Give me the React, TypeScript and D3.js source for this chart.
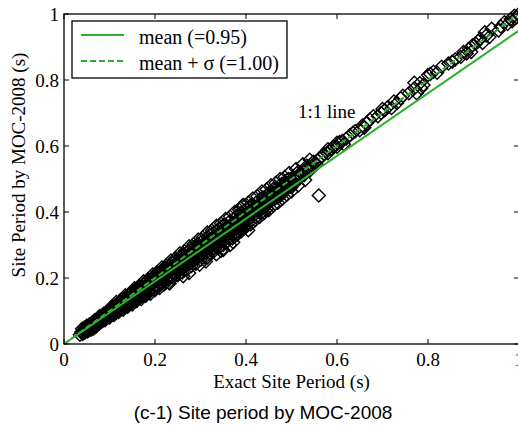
import React from "react";
import * as d3 from "d3";

const xTicks = [0, 0.2, 0.4, 0.6, 0.8, 1];
const yTicks = [0, 0.2, 0.4, 0.6, 0.8, 1];
const meanRatio = 0.95;
const meanPlusSigma = 1.0;
const legendLabels = ["mean (=0.95)", "mean + \u03c3 (=1.00)"];

// [exact site period (s), MOC-2008 site period (s)]
const samples: [number, number][] = [
  [0.035,0.028],[0.038,0.036],[0.041,0.030],[0.044,0.042],[0.046,0.035],[0.049,0.047],[0.051,0.040],[0.053,0.051],[0.055,0.046],[0.058,0.050],
  [0.060,0.057],[0.062,0.049],[0.064,0.061],[0.066,0.055],[0.068,0.066],[0.070,0.060],[0.072,0.071],[0.074,0.063],[0.076,0.073],[0.078,0.068],
  [0.080,0.078],[0.082,0.071],[0.084,0.082],[0.086,0.077],[0.088,0.084],[0.090,0.080],[0.092,0.090],[0.094,0.083],[0.096,0.093],[0.098,0.089],
  [0.100,0.097],[0.102,0.090],[0.104,0.101],[0.106,0.095],[0.108,0.106],[0.110,0.098],[0.112,0.108],[0.114,0.103],[0.116,0.113],[0.118,0.106],
  [0.120,0.118],[0.122,0.110],[0.124,0.121],[0.126,0.116],[0.128,0.124],[0.130,0.120],[0.132,0.130],[0.134,0.122],[0.136,0.133],[0.138,0.128],
  [0.140,0.137],[0.142,0.131],[0.144,0.141],[0.146,0.134],[0.148,0.145],[0.150,0.140],[0.152,0.150],[0.154,0.143],[0.156,0.152],[0.158,0.148],
  [0.160,0.157],[0.162,0.151],[0.164,0.161],[0.166,0.155],[0.168,0.166],[0.170,0.159],[0.172,0.169],[0.174,0.163],[0.176,0.173],[0.178,0.167],
  [0.180,0.177],[0.182,0.171],[0.184,0.181],[0.186,0.174],[0.188,0.185],[0.190,0.179],[0.192,0.189],[0.194,0.183],[0.196,0.193],[0.198,0.186],
  [0.200,0.197],[0.045,0.050],[0.060,0.044],[0.075,0.080],[0.090,0.072],[0.105,0.110],[0.120,0.104],[0.135,0.139],[0.150,0.133],[0.165,0.170],
  [0.180,0.165],[0.195,0.200],[0.070,0.052],[0.115,0.096],[0.160,0.146],[0.185,0.168],
  [0.202,0.190],[0.204,0.201],[0.206,0.195],[0.208,0.206],[0.210,0.198],[0.212,0.210],[0.214,0.202],[0.216,0.213],[0.218,0.207],[0.220,0.217],
  [0.222,0.210],[0.224,0.222],[0.226,0.214],[0.228,0.226],[0.230,0.218],[0.232,0.229],[0.234,0.222],[0.236,0.233],[0.238,0.226],[0.240,0.238],
  [0.242,0.229],[0.244,0.242],[0.246,0.233],[0.248,0.245],[0.250,0.238],[0.252,0.249],[0.254,0.241],[0.256,0.253],[0.258,0.246],[0.260,0.258],
  [0.262,0.249],[0.264,0.262],[0.266,0.253],[0.268,0.265],[0.270,0.257],[0.272,0.270],[0.274,0.261],[0.276,0.273],[0.278,0.265],[0.280,0.277],
  [0.282,0.268],[0.284,0.281],[0.286,0.272],[0.288,0.285],[0.290,0.276],[0.292,0.289],[0.294,0.280],[0.296,0.293],[0.298,0.284],[0.300,0.297],
  [0.303,0.288],[0.306,0.303],[0.309,0.294],[0.312,0.308],[0.315,0.299],[0.318,0.314],[0.321,0.305],[0.324,0.320],[0.327,0.311],[0.330,0.326],
  [0.333,0.316],[0.336,0.331],[0.339,0.322],[0.342,0.338],[0.345,0.327],[0.348,0.343],[0.351,0.333],[0.354,0.349],[0.357,0.340],[0.360,0.355],
  [0.363,0.345],[0.366,0.361],[0.369,0.350],[0.372,0.367],[0.375,0.356],[0.378,0.372],[0.381,0.362],[0.384,0.379],[0.387,0.368],[0.390,0.385],
  [0.393,0.373],[0.396,0.391],[0.399,0.380],
  [0.250,0.225],[0.270,0.248],[0.290,0.262],[0.300,0.272],[0.310,0.285],[0.330,0.300],[0.340,0.305],[0.355,0.325],[0.365,0.335],[0.375,0.348],
  [0.385,0.350],[0.395,0.362],[0.220,0.200],[0.240,0.220],[0.280,0.258],[0.320,0.293],
  [0.275,0.215],[0.315,0.262],[0.335,0.272],[0.350,0.285],[0.365,0.300],[0.380,0.330],
  [0.230,0.236],[0.260,0.266],[0.290,0.298],[0.320,0.330],[0.350,0.360],[0.380,0.388],[0.210,0.216],[0.340,0.349],
  [0.040,0.046],[0.043,0.033],[0.047,0.040],[0.050,0.055],[0.052,0.038],[0.056,0.060],[0.057,0.043],[0.061,0.064],[0.063,0.052],[0.065,0.047],
  [0.067,0.072],[0.069,0.056],[0.071,0.065],[0.073,0.057],[0.075,0.068],[0.077,0.062],[0.079,0.085],[0.081,0.066],[0.083,0.076],[0.085,0.070],
  [0.087,0.092],[0.089,0.074],[0.091,0.085],[0.093,0.078],[0.095,0.099],[0.097,0.081],[0.099,0.094],[0.101,0.086],[0.103,0.107],[0.105,0.088],
  [0.107,0.100],[0.109,0.093],[0.111,0.115],[0.113,0.095],[0.115,0.108],[0.117,0.100],[0.119,0.123],[0.121,0.102],
  [0.123,0.116],[0.125,0.105],[0.127,0.131],[0.129,0.112],[0.131,0.124],[0.133,0.110],[0.135,0.142],[0.137,0.118],[0.139,0.132],[0.141,0.120],
  [0.143,0.150],[0.145,0.126],[0.147,0.139],[0.149,0.125],[0.151,0.158],[0.153,0.133],[0.155,0.146],[0.157,0.131],[0.159,0.166],[0.161,0.140],
  [0.163,0.154],[0.165,0.138],[0.167,0.174],[0.169,0.147],[0.171,0.162],[0.173,0.145],[0.175,0.182],[0.177,0.154],[0.179,0.170],[0.181,0.152],
  [0.183,0.190],[0.185,0.161],[0.187,0.177],[0.189,0.160],[0.191,0.198],[0.193,0.168],[0.195,0.184],[0.197,0.167],[0.199,0.207],[0.201,0.175],
  [0.203,0.192],[0.205,0.174],[0.207,0.215],[0.209,0.183],[0.211,0.200],[0.213,0.182],[0.215,0.223],[0.217,0.191],[0.219,0.208],[0.221,0.189],
  [0.223,0.231],[0.225,0.198],[0.227,0.216],[0.229,0.196],[0.231,0.239],[0.233,0.206],[0.235,0.224],[0.237,0.204],[0.239,0.247],[0.241,0.214],
  [0.243,0.232],[0.245,0.212],[0.247,0.255],[0.249,0.222],
  [0.251,0.240],[0.253,0.221],[0.255,0.263],[0.257,0.230],[0.259,0.248],[0.261,0.228],[0.263,0.271],[0.265,0.238],[0.267,0.256],[0.269,0.236],
  [0.271,0.279],[0.273,0.246],[0.275,0.264],[0.277,0.244],[0.279,0.287],[0.281,0.254],[0.283,0.272],[0.285,0.252],[0.287,0.295],[0.289,0.262],
  [0.291,0.281],[0.293,0.259],[0.295,0.303],[0.297,0.270],[0.299,0.289],[0.301,0.267],[0.304,0.312],[0.307,0.279],[0.310,0.298],[0.313,0.276],
  [0.316,0.324],[0.319,0.289],[0.322,0.310],[0.325,0.287],[0.328,0.336],[0.331,0.300],[0.334,0.322],[0.337,0.298],[0.341,0.349],[0.344,0.312],
  [0.347,0.335],[0.350,0.310],[0.353,0.361],[0.356,0.324],[0.359,0.347],[0.362,0.322],[0.365,0.373],[0.368,0.337],[0.371,0.360],[0.374,0.334],
  [0.377,0.385],[0.380,0.350],[0.383,0.372],[0.386,0.347],[0.389,0.397],[0.392,0.362],[0.395,0.384],[0.398,0.358],[0.401,0.409],[0.404,0.375],
  [0.407,0.396],[0.410,0.372],[0.413,0.420],[0.416,0.388],[0.419,0.408],[0.422,0.384],[0.425,0.432],[0.428,0.400],[0.431,0.420],[0.434,0.398],
  [0.437,0.444],[0.440,0.414],[0.443,0.433],[0.446,0.410],[0.449,0.456],
  [0.402,0.395],[0.405,0.388],[0.408,0.402],[0.411,0.396],[0.414,0.408],[0.417,0.400],[0.420,0.415],[0.423,0.405],[0.426,0.421],[0.429,0.412],
  [0.432,0.428],[0.435,0.418],[0.438,0.434],[0.441,0.424],[0.444,0.440],[0.447,0.430],[0.450,0.446],[0.453,0.437],[0.456,0.452],[0.459,0.443],
  [0.462,0.458],[0.465,0.449],[0.468,0.465],[0.471,0.455],[0.474,0.471],[0.477,0.462],[0.480,0.477],[0.484,0.470],[0.488,0.485],[0.492,0.478],
  [0.496,0.494],[0.500,0.487],[0.505,0.503],[0.510,0.496],[0.515,0.513],[0.520,0.508],[0.526,0.522],[0.532,0.530],[0.538,0.536],[0.545,0.540],
  [0.552,0.550],[0.558,0.556],
  [0.410,0.420],[0.430,0.438],[0.460,0.470],[0.490,0.497],[0.420,0.395],[0.445,0.420],[0.470,0.445],[0.500,0.475],[0.388,0.412],[0.392,0.420],
  [0.452,0.430],[0.455,0.462],[0.458,0.436],[0.461,0.449],[0.464,0.440],[0.467,0.473],[0.470,0.452],[0.473,0.462],[0.476,0.450],[0.479,0.486],
  [0.482,0.462],[0.486,0.478],[0.490,0.470],[0.494,0.500],[0.498,0.478],[0.502,0.495],[0.507,0.488],[0.512,0.518],[0.517,0.500],[0.522,0.516],
  [0.528,0.512],[0.534,0.540],[0.540,0.525],[0.548,0.552],[0.555,0.545],[0.562,0.562],
  [0.105,0.114],[0.115,0.127],[0.125,0.134],[0.135,0.148],[0.145,0.154],[0.155,0.169],[0.165,0.176],[0.175,0.190],[0.185,0.196],[0.195,0.211],
  [0.205,0.218],[0.215,0.232],[0.225,0.239],[0.235,0.253],[0.245,0.260],[0.255,0.275],[0.265,0.281],[0.275,0.296],[0.285,0.302],[0.295,0.317],
  [0.305,0.323],[0.315,0.338],[0.325,0.344],[0.335,0.358],[0.345,0.365],[0.355,0.379],[0.365,0.386],[0.375,0.400],[0.385,0.407],[0.395,0.421],
  [0.405,0.428],[0.415,0.441],[0.425,0.448],[0.435,0.462],[0.445,0.468],[0.455,0.481],[0.465,0.488],[0.475,0.500],[0.485,0.506],[0.495,0.518],
  [0.510,0.530],[0.525,0.545],[0.540,0.558],
  [0.100,0.080],[0.110,0.088],[0.120,0.097],[0.130,0.104],[0.140,0.113],[0.150,0.120],[0.160,0.130],[0.170,0.136],[0.180,0.146],[0.190,0.152],
  [0.200,0.163],[0.210,0.170],[0.220,0.180],[0.230,0.186],[0.240,0.200],[0.250,0.208],[0.260,0.217],[0.270,0.225],[0.280,0.236],[0.290,0.243],
  [0.300,0.255],[0.310,0.262],[0.320,0.275],[0.330,0.282],[0.340,0.292],[0.350,0.300],[0.360,0.312],[0.370,0.320],[0.380,0.335],[0.390,0.342],
  [0.400,0.355],[0.410,0.362],[0.420,0.375],[0.430,0.385],[0.440,0.397],[0.450,0.405],[0.460,0.420],[0.470,0.428],[0.480,0.440],[0.490,0.452],
  [0.500,0.462],[0.515,0.480],[0.530,0.497],
  [0.262,0.205],[0.298,0.240],[0.312,0.250],[0.345,0.282],[0.372,0.308],[0.405,0.345],[0.232,0.183],
  [0.560,0.450],
  [0.565,0.568],[0.572,0.575],[0.580,0.578],[0.586,0.590],[0.593,0.596],[0.600,0.598],[0.606,0.612],[0.612,0.615],[0.620,0.622],[0.628,0.632],
  [0.640,0.645],[0.650,0.648],[0.656,0.662],[0.665,0.668],[0.672,0.680],[0.690,0.690],[0.697,0.700],[0.705,0.708],[0.712,0.718],[0.725,0.735],
  [0.732,0.730],[0.740,0.745],[0.758,0.760],[0.770,0.775],[0.775,0.760],[0.782,0.790],[0.790,0.785],[0.805,0.818],[0.812,0.825],[0.820,0.822],
  [0.845,0.850],[0.853,0.855],[0.872,0.870],[0.878,0.885],[0.885,0.880],[0.890,0.895],[0.898,0.905],[0.905,0.910],[0.910,0.918],[0.915,0.925],
  [0.920,0.912],[0.928,0.935],[0.960,0.962],[0.968,0.975],[0.975,0.970],[0.982,0.985],[0.990,0.995],[0.995,0.990],
  [0.580,0.590],[0.600,0.610],[0.615,0.605],[0.635,0.640],[0.660,0.655],[0.680,0.690],[0.700,0.712],[0.720,0.715],[0.745,0.752],[0.770,0.792],
  [0.785,0.775],[0.800,0.815],[0.830,0.840],[0.860,0.862],[0.895,0.885],[0.925,0.945],[0.935,0.930],[0.955,0.950],[0.985,0.978],[0.998,0.998],
  [0.940,0.955]
];

const W = 518;
const H = 426;
const left = 64;
const right = 519;
const top = 14;
const bottom = 344;
const green = "#2eb02e";
const serif = "'Liberation Serif', 'Times New Roman', serif";
const sans = "'Liberation Sans', Arial, sans-serif";

export default function App() {
  const x = d3.scaleLinear().domain([0, 1]).range([left, right]);
  const y = d3.scaleLinear().domain([0, 1]).range([bottom, top]);
  const r = 6.5;
  const diamond = `M0,${-r}L${r},0L0,${r}L${-r},0Z`;
  const line = d3.line<[number, number]>().x((d) => x(d[0])).y((d) => y(d[1]));
  const meanLine = line([[0, 0], [1, meanRatio]]) || "";
  const sigmaLine = line([[0, 0], [1, meanPlusSigma]]) || "";
  const tickLen = 5;

  return (
    <svg width={W} height={H} style={{ position: "absolute", left: 0, top: 0, background: "#fff" }}>
      <g>
        {samples.map((d, i) => (
          <path key={i} d={diamond} transform={`translate(${x(d[0])},${y(d[1])})`} fill="none" stroke="#000" strokeWidth={1.4} />
        ))}
      </g>
      <path d={meanLine} stroke={green} strokeWidth={2} fill="none" />
      <path d={sigmaLine} stroke={green} strokeWidth={2} fill="none" strokeDasharray="6,3" />

      <rect x={left} y={top} width={right - left} height={bottom - top} fill="none" stroke="#000" strokeWidth={1.3} />
      {xTicks.map((t) => (
        <g key={"xt" + t}>
          <line x1={x(t)} x2={x(t)} y1={bottom} y2={bottom - tickLen} stroke="#000" />
          <line x1={x(t)} x2={x(t)} y1={top} y2={top + tickLen} stroke="#000" />
          <text x={x(t)} y={bottom + 22} textAnchor="middle" fontFamily={serif} fontSize={19}>{t}</text>
        </g>
      ))}
      {yTicks.map((t) => (
        <g key={"yt" + t}>
          <line x1={left} x2={left + tickLen} y1={y(t)} y2={y(t)} stroke="#000" />
          <line x1={right} x2={right - tickLen} y1={y(t)} y2={y(t)} stroke="#000" />
          <text x={left - 5} y={y(t) + 7} textAnchor="end" fontFamily={serif} fontSize={19}>{t}</text>
        </g>
      ))}

      <text x={298} y={118} fontFamily={serif} fontSize={19}>1:1 line</text>

      <rect x={72} y={21} width={215} height={57} fill="#fff" stroke="#000" strokeWidth={1.3} />
      <line x1={81} x2={124} y1={35} y2={35} stroke={green} strokeWidth={2} />
      <line x1={81} x2={124} y1={61} y2={61} stroke={green} strokeWidth={2} strokeDasharray="6,3" />
      <text x={139} y={44} fontFamily={serif} fontSize={20}>{legendLabels[0]}</text>
      <text x={139} y={70} fontFamily={serif} fontSize={20}>{legendLabels[1]}</text>

      <text x={(left + right) / 2} y={388} textAnchor="middle" fontFamily={serif} fontSize={19}>Exact Site Period (s)</text>
      <text transform={`translate(25,165) rotate(-90)`} textAnchor="middle" fontFamily={serif} fontSize={19}>Site Period by MOC-2008 (s)</text>
      <text x={263} y={419} textAnchor="middle" fontFamily={sans} fontSize={19}>(c-1) Site period by MOC-2008</text>
    </svg>
  );
}
